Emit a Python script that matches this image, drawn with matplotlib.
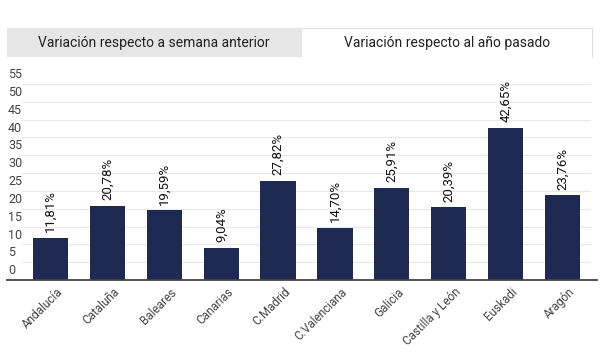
import matplotlib.pyplot as plt
import matplotlib.transforms as mtransforms
from matplotlib.patches import Rectangle
from matplotlib.lines import Line2D

regions = ['Andalucía', 'Cataluña', 'Baleares', 'Canarias', 'C.Madrid',
           'C.Valenciana', 'Galicia', 'Castilla y León', 'Euskadi', 'Aragón']
values = [11.81, 20.78, 19.59, 9.04, 27.82, 14.70, 25.91, 20.39, 42.65, 23.76]
yticks = [0, 5, 10, 15, 20, 25, 30, 35, 40, 45, 50, 55]
tab_labels = ['Variación respecto a semana anterior', 'Variación respecto al año pasado']

plt.rcParams['font.family'] = ['Roboto', 'DejaVu Sans']

W, H = 600, 354
fig = plt.figure(figsize=(6, 3.54), dpi=100)

# tabs
fig.patches.append(Rectangle((7 / W, 1 - 57 / H), 295 / W, 29 / H, transform=fig.transFigure,
                             facecolor='#e6e6e6', edgecolor='none'))
fig.patches.append(Rectangle((302 / W, 1 - 57 / H), 290 / W, 29 / H, transform=fig.transFigure,
                             facecolor='white', edgecolor='none'))
fig.lines.append(Line2D([302 / W, 592 / W, 592 / W], [1 - 28 / H, 1 - 28 / H, 1 - 57 / H],
                        transform=fig.transFigure, color='#dddddd', linewidth=0.8))
fig.text(154 / W, 1 - 43 / H, tab_labels[0], ha='center', va='center', fontsize=10, color='#222222')
fig.text(447 / W, 1 - 43 / H, tab_labels[1], ha='center', va='center', fontsize=10, color='#222222')

ax = fig.add_axes([22 / W, 1 - 280 / H, 569 / W, 196 / H])
x = range(len(regions))
bars = ax.bar(x, values, width=0.62, color='#1f2a52', zorder=3)
ax.set_xlim(-0.5, len(regions) - 0.5)
ax.set_ylim(0, 55)

for s in ax.spines.values():
    s.set_visible(False)
ax.set_yticks(yticks)
ax.yaxis.grid(True, color='#e8e8e8', linewidth=0.8, zorder=0)
ax.tick_params(left=False, bottom=False, labelleft=False, labelbottom=False)

# y labels sit just above gridlines at the far left
tr = mtransforms.blended_transform_factory(fig.transFigure, ax.transData)
off = mtransforms.offset_copy(tr, fig=fig, y=2, units='points')
for t in yticks:
    fig.text(8 / W, t, str(t), transform=off, ha='left', va='bottom', fontsize=9, color='#444444')

# baseline
fig.lines.append(Line2D([7 / W, 597 / W], [1 - 280 / H, 1 - 280 / H], transform=fig.transFigure,
                        color='#444444', linewidth=1.3))

# value labels
for xi, v in zip(x, values):
    ax.annotate(f"{v:.2f}%".replace('.', ','), (xi, v), xytext=(0, 4), textcoords='offset points',
                rotation=90, ha='center', va='bottom', fontsize=9.5, color='#111111', clip_on=False)

# category labels
for xi, name in zip(x, regions):
    ax.annotate(name, (xi, 0), xytext=(4, -4), textcoords='offset points', rotation=45,
                rotation_mode='anchor', ha='right', va='top', fontsize=8.5, color='#444444',
                annotation_clip=False)

fig.savefig('out.png', dpi=100)
